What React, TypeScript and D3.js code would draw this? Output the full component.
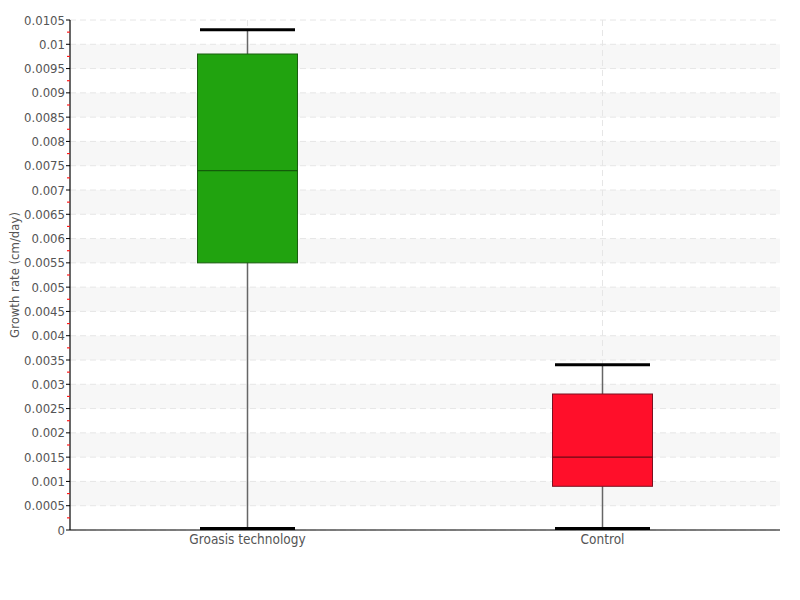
import React from "react";
import * as d3 from "d3";

const categories = ["Groasis technology", "Control"];
const whiskerMax = [0.0103, 0.0034];
const q3Values = [0.0098, 0.0028];
const medianValues = [0.0074, 0.0015];
const q1Values = [0.0055, 0.0009];
const whiskerMin = [0.00003, 0.00003];
const fillColors = ["#21a30f", "#ff0f2a"];
const strokeColors = ["#1a5e10", "#7a1020"];
const medianColors = ["#135c0a", "#6a0a15"];
const yTicks = d3.range(0, 0.01051, 0.0005);
const yLabel = "Growth rate (cm/day)";

const W = 800, H = 600;
const M = { left: 70, right: 20, top: 20, bottom: 70 };
const FONT = "'Liberation Sans Narrow', 'DejaVu Sans Condensed', 'Arial Narrow', sans-serif";

export default function App() {
  const x = d3.scaleBand().domain(categories).range([M.left, W - M.right]);
  const y = d3.scaleLinear().domain([0, 0.0105]).range([H - M.bottom, M.top]);
  const fmt = (v: number) => (+v.toFixed(5)).toString();
  const boxW = 100;
  const capW = 95;
  const minor = yTicks.slice(0, -1).map((t) => t + 0.00025);
  return (
    <svg width={W} height={H} style={{ display: "block", position: "absolute", left: 0, top: 0, fontFamily: FONT }}>
      {yTicks.slice(0, -1).map((t, i) =>
        i % 2 === 1 ? (
          <rect key={"b" + i} x={M.left} width={W - M.right - M.left} y={y(t + 0.0005)} height={y(t) - y(t + 0.0005)} fill="#f7f7f7" />
        ) : null
      )}
      {yTicks.map((t, i) => (
        <line key={"g" + i} x1={M.left} x2={W - M.right} y1={y(t)} y2={y(t)} stroke="#e6e6e6" strokeDasharray="6,4" />
      ))}
      {categories.map((c) => (
        <line key={"v" + c} x1={x(c)! + x.bandwidth() / 2} x2={x(c)! + x.bandwidth() / 2} y1={M.top} y2={H - M.bottom} stroke="#e6e6e6" strokeDasharray="6,4" />
      ))}
      {categories.map((c, i) => {
        const cx = x(c)! + x.bandwidth() / 2;
        return (
          <g key={"box" + c}>
            <line x1={cx} x2={cx} y1={y(whiskerMax[i])} y2={y(whiskerMin[i])} stroke="#666" strokeWidth={1.5} />
            <rect x={cx - boxW / 2} width={boxW} y={y(q3Values[i])} height={y(q1Values[i]) - y(q3Values[i])} fill={fillColors[i]} stroke={strokeColors[i]} strokeWidth={1} />
            <line x1={cx - boxW / 2} x2={cx + boxW / 2} y1={y(medianValues[i])} y2={y(medianValues[i])} stroke={medianColors[i]} strokeWidth={1.2} />
            <line x1={cx - capW / 2} x2={cx + capW / 2} y1={y(whiskerMax[i])} y2={y(whiskerMax[i])} stroke="#000" strokeWidth={3} />
            <line x1={cx - capW / 2} x2={cx + capW / 2} y1={y(whiskerMin[i])} y2={y(whiskerMin[i])} stroke="#000" strokeWidth={3} />
          </g>
        );
      })}
      <line x1={M.left} x2={M.left} y1={M.top} y2={H - M.bottom} stroke="#000" strokeWidth={1.2} />
      <line x1={M.left} x2={W - M.right} y1={H - M.bottom} y2={H - M.bottom} stroke="#000" strokeWidth={1.2} />
      {minor.map((t, i) => (
        <line key={"m" + i} x1={M.left - 3} x2={M.left} y1={y(t)} y2={y(t)} stroke="#ff1a1a" strokeWidth={1.2} />
      ))}
      {yTicks.map((t, i) => (
        <g key={"t" + i}>
          <line x1={M.left - 4} x2={M.left} y1={y(t)} y2={y(t)} stroke="#000" strokeWidth={1} />
          <text x={M.left - 5} y={y(t)} dy="0.35em" textAnchor="end" fontSize={13} fill="#555">{fmt(t)}</text>
        </g>
      ))}
      {categories.map((c) => (
        <text key={"xl" + c} x={x(c)! + x.bandwidth() / 2} y={H - M.bottom + 14} textAnchor="middle" fontSize={13.5} fill="#555">{c}</text>
      ))}
      <text transform={`translate(19, ${(M.top + H - M.bottom) / 2}) rotate(-90)`} textAnchor="middle" fontSize={13} fill="#555">{yLabel}</text>
    </svg>
  );
}
